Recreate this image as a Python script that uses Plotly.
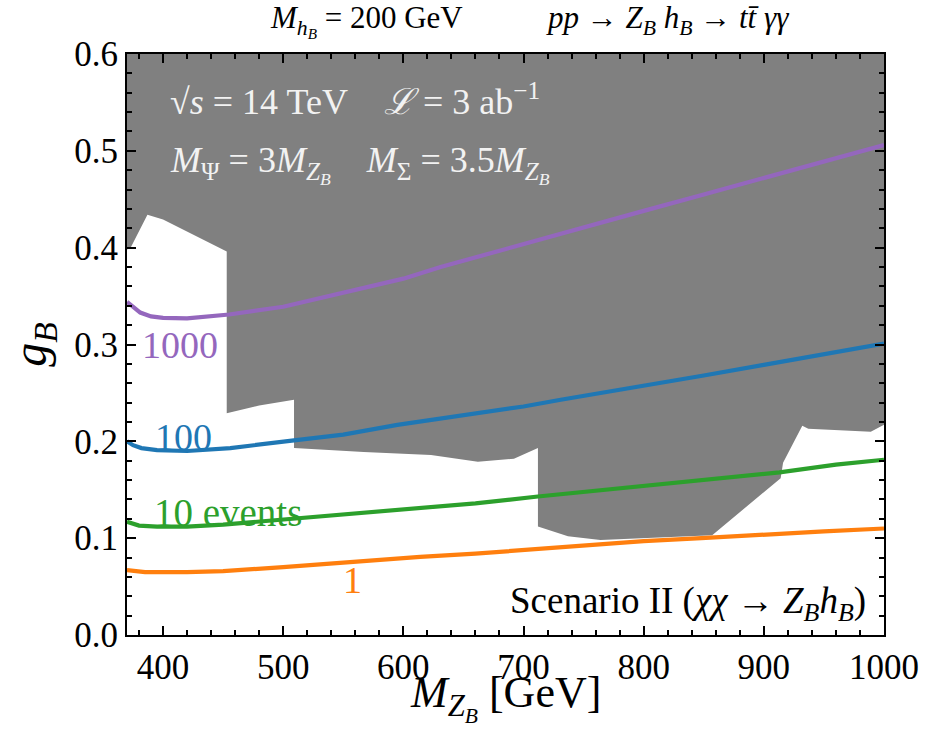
import plotly.graph_objects as go

# Excluded region in the (M_ZB, g_B) plane, traced along its lower boundary
excl_mz = [370, 370, 373, 387, 400, 453, 453, 480, 509, 509, 567, 623, 662, 692, 712,
           712, 737, 764, 857, 914, 916, 932, 937, 989, 1000, 1000]
excl_g = [0.600, 0.398, 0.400, 0.434, 0.429, 0.396, 0.229, 0.237, 0.243, 0.193, 0.189,
          0.186, 0.179, 0.182, 0.193, 0.112, 0.102, 0.098, 0.103, 0.162, 0.178, 0.216,
          0.213, 0.210, 0.217, 0.600]

# Event-count contours
mz_1000 = [370, 375, 381, 390, 400, 420, 440, 455, 500, 531, 565, 600, 631, 700, 750,
           800, 850, 900, 950, 1000]
g_1000 = [0.344, 0.339, 0.333, 0.329, 0.3275, 0.327, 0.329, 0.331, 0.339, 0.348, 0.357,
          0.368, 0.380, 0.404, 0.421, 0.438, 0.455, 0.472, 0.489, 0.506]

mz_100 = [370, 375, 382, 395, 420, 456, 509, 550, 595, 650, 700, 731, 800, 850, 900,
          950, 1000]
g_100 = [0.200, 0.196, 0.193, 0.191, 0.190, 0.193, 0.201, 0.207, 0.217, 0.227, 0.236,
         0.243, 0.257, 0.268, 0.279, 0.290, 0.301]

mz_10 = [370, 380, 395, 420, 450, 500, 550, 614, 660, 712, 760, 810, 860, 913, 960, 1000]
g_10 = [0.117, 0.113, 0.112, 0.112, 0.114, 0.119, 0.125, 0.131, 0.136, 0.143, 0.149,
        0.155, 0.161, 0.168, 0.176, 0.181]

mz_1 = [370, 385, 420, 450, 500, 550, 614, 660, 700, 750, 800, 848, 900, 950, 1000]
g_1 = [0.067, 0.065, 0.065, 0.066, 0.070, 0.075, 0.0806, 0.084, 0.088, 0.093, 0.097,
       0.100, 0.104, 0.107, 0.110]

contours = [
    (mz_1000, g_1000, "#9467bd", "1000"),
    (mz_100, g_100, "#1f77b4", "100"),
    (mz_10, g_10, "#2ca02c", "10 events"),
    (mz_1, g_1, "#ff7f0e", "1"),
]

SERIF = "Liberation Serif"
NB = "\u00a0"

fig = go.Figure()
fig.add_trace(go.Scatter(x=excl_mz, y=excl_g, fill="toself", fillcolor="#808080",
                         mode="none", hoverinfo="skip", showlegend=False))
for mz, g, col, name in contours:
    fig.add_trace(go.Scatter(x=mz, y=g, mode="lines", name=name,
                             line=dict(color=col, width=4.2), showlegend=False))

annotations = [
    dict(x=381, y=0.2996, text="1000", color="#9467bd", xanchor="left", size=38),
    dict(x=392, y=0.2045, text="100", color="#1f77b4", xanchor="left", size=38),
    dict(x=391, y=0.127, text="10" + NB + "events", color="#2ca02c", xanchor="left",
         size=39),
    dict(x=558, y=0.057, text="1", color="#ff7f0e", xanchor="center", size=38),
    dict(x=987, y=0.033,
         text="Scenario II (<i>χχ</i> → <i>Z<sub>B</sub>h<sub>B</sub></i>)",
         color="black", xanchor="right", size=37),
    dict(x=404, y=0.553,
         text="√<i>s</i> = 14 TeV" + NB * 4 + "<i>ℒ</i> = 3 ab<sup>−1</sup>",
         color="#f2f2f2", xanchor="left", size=36),
    dict(x=404, y=0.486,
         text="<i>M</i><sub>Ψ</sub> = 3<i>M</i><sub><i>Z<sub>B</sub></i></sub>" + NB * 4
              + "<i>M</i><sub>Σ</sub> = 3.5<i>M</i><sub><i>Z<sub>B</sub></i></sub>",
         color="#f2f2f2", xanchor="left", size=36),
]
for a in annotations:
    fig.add_annotation(x=a["x"], y=a["y"], xref="x", yref="y", text=a["text"],
                       showarrow=False, xanchor=a["xanchor"], yanchor="middle",
                       font=dict(family=SERIF, size=a["size"], color=a["color"]))

# Figure title above the frame
fig.add_annotation(
    x=0.532, y=1.056, xref="paper", yref="paper", yanchor="middle", showarrow=False,
    text="<i>M</i><sub><i>h<sub>B</sub></i></sub> = 200 GeV" + NB * 11
         + "<i>pp</i> → <i>Z<sub>B</sub> h<sub>B</sub></i> → <i>t</i><i>t̄</i> <i>γγ</i>",
    font=dict(family=SERIF, size=31, color="black"))

# x-axis title placed below the tick labels
fig.add_annotation(
    x=0.5, y=-0.1635, xref="paper", yref="paper", yanchor="bottom", showarrow=False,
    text="<i>M</i><sub><i>Z<sub>B</sub></i></sub> [GeV]",
    font=dict(family=SERIF, size=44, color="black"))

axis_common = dict(
    showline=True, linecolor="black", linewidth=2, mirror="ticks",
    ticks="inside", ticklen=9, tickwidth=2, tickcolor="black",
    showgrid=False, zeroline=False, automargin=False,
    tickfont=dict(family=SERIF, size=35, color="black"),
)

fig.update_xaxes(range=[370, 1000], tickvals=[400, 500, 600, 700, 800, 900, 1000],
                 minor=dict(dtick=20, tick0=0, ticks="inside", ticklen=5, tickwidth=1.5,
                            tickcolor="black"),
                 **axis_common)
fig.update_yaxes(range=[0, 0.6], tickvals=[0, 0.1, 0.2, 0.3, 0.4, 0.5, 0.6],
                 tickformat=".1f",
                 minor=dict(dtick=0.02, tick0=0, ticks="inside", ticklen=5, tickwidth=1.5,
                            tickcolor="black"),
                 title=dict(text="<i>g<sub>B</sub></i>",
                            font=dict(family=SERIF, size=48, color="black"), standoff=12),
                 **axis_common)

fig.update_layout(
    width=929, height=731,
    margin=dict(l=127, r=45, t=54, b=96),
    plot_bgcolor="white", paper_bgcolor="white",
)

fig.write_html("out.html")
